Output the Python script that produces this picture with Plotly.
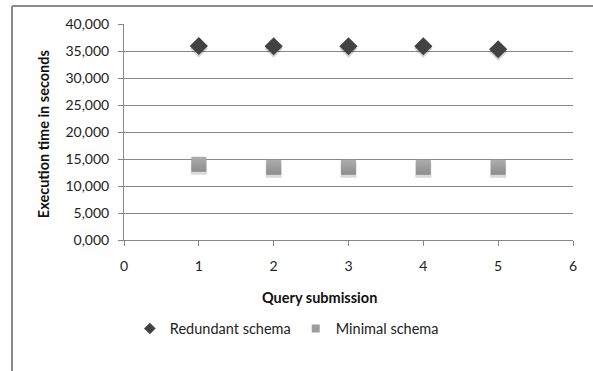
import plotly.graph_objects as go

# Query submissions and execution times (seconds, decimal comma)
submissions = [1, 2, 3, 4, 5]
redundant_schema = [35.93, 35.88, 35.88, 35.88, 35.32]
minimal_schema = [14.02, 13.46, 13.46, 13.46, 13.46]

x_ticks = [0, 1, 2, 3, 4, 5, 6]
y_ticks = [0, 5, 10, 15, 20, 25, 30, 35, 40]

FONT = "Lato"
GRID = "#878787"
TEXT = "#222222"

fig = go.Figure()

# soft drop shadows under each marker
fig.add_trace(go.Scatter(
    x=submissions, y=[v - 0.45 for v in redundant_schema], mode="markers",
    marker=dict(symbol="diamond", size=14, color="rgba(0,0,0,0.18)", line=dict(width=0)),
    showlegend=False, hoverinfo="skip"))
fig.add_trace(go.Scatter(
    x=submissions, y=[v - 0.45 for v in minimal_schema], mode="markers",
    marker=dict(symbol="square", size=16, color="rgba(0,0,0,0.15)", line=dict(width=0)),
    showlegend=False, hoverinfo="skip"))

fig.add_trace(go.Scatter(
    x=submissions, y=redundant_schema, mode="markers", name="Redundant schema",
    marker=dict(symbol="diamond", size=14, color="#424242", line=dict(width=0)),
    showlegend=False))
fig.add_trace(go.Scatter(
    x=submissions, y=minimal_schema, mode="markers", name="Minimal schema",
    marker=dict(symbol="square", size=15, color="#adadad", line=dict(width=0),
                gradient=dict(type="vertical", color="#8c8c8c")),
    showlegend=False))

# legend entries with small key symbols
fig.add_trace(go.Scatter(
    x=[None], y=[None], mode="markers", name="Redundant schema",
    marker=dict(symbol="diamond", size=9, color="#424242", line=dict(width=0))))
fig.add_trace(go.Scatter(
    x=[None], y=[None], mode="markers", name="Minimal schema",
    marker=dict(symbol="square", size=8, color="#9c9c9c", line=dict(width=0))))

fig.update_layout(
    width=593, height=371,
    margin=dict(l=124, r=20, t=24, b=131),
    paper_bgcolor="white", plot_bgcolor="white",
    separators=",.",
    font=dict(family=FONT, size=14, color=TEXT),
    showlegend=True,
    legend=dict(orientation="h", x=0.013, y=-0.41, xanchor="left", yanchor="middle",
                font=dict(family=FONT, size=14.5, color=TEXT),
                itemwidth=30, tracegroupgap=0, bgcolor="rgba(0,0,0,0)"),
    xaxis=dict(range=[0, 6], tickvals=x_ticks, showgrid=False, zeroline=False,
               showline=True, linecolor=GRID, linewidth=1,
               ticks="outside", ticklen=5, tickcolor=GRID, ticklabelstandoff=8,
               tickfont=dict(family=FONT, size=14, color=TEXT)),
    yaxis=dict(range=[0, 40], tickvals=y_ticks, tickformat=".3f",
               showgrid=True, gridcolor=GRID, gridwidth=1, zeroline=False,
               showline=True, linecolor=GRID, linewidth=1,
               ticks="outside", ticklen=5, tickcolor=GRID, ticklabelstandoff=6,
               tickfont=dict(family=FONT, size=14, color=TEXT)),
    annotations=[
        dict(text="<b>Query submission</b>", xref="paper", yref="paper",
             x=0.4365, y=-0.264, xanchor="center", yanchor="middle", showarrow=False,
             font=dict(family=FONT, size=14.5, color="#111111")),
        dict(text="<b>Execution time in seconds</b>", xref="paper", yref="paper",
             x=-0.1804, y=0.49, xanchor="center", yanchor="middle", showarrow=False,
             textangle=-90, font=dict(family=FONT, size=14.5, color="#111111")),
    ],
    shapes=[
        dict(type="line", xref="paper", yref="paper", x0=-0.2494, x1=1.05,
             y0=1.0833, y1=1.0833, line=dict(color="#8a8a8a", width=2)),
        dict(type="line", xref="paper", yref="paper", x0=-0.2494, x1=-0.2494,
             y0=1.0833, y1=-0.62, line=dict(color="#8a8a8a", width=2)),
    ],
)

fig.write_html("out.html")
